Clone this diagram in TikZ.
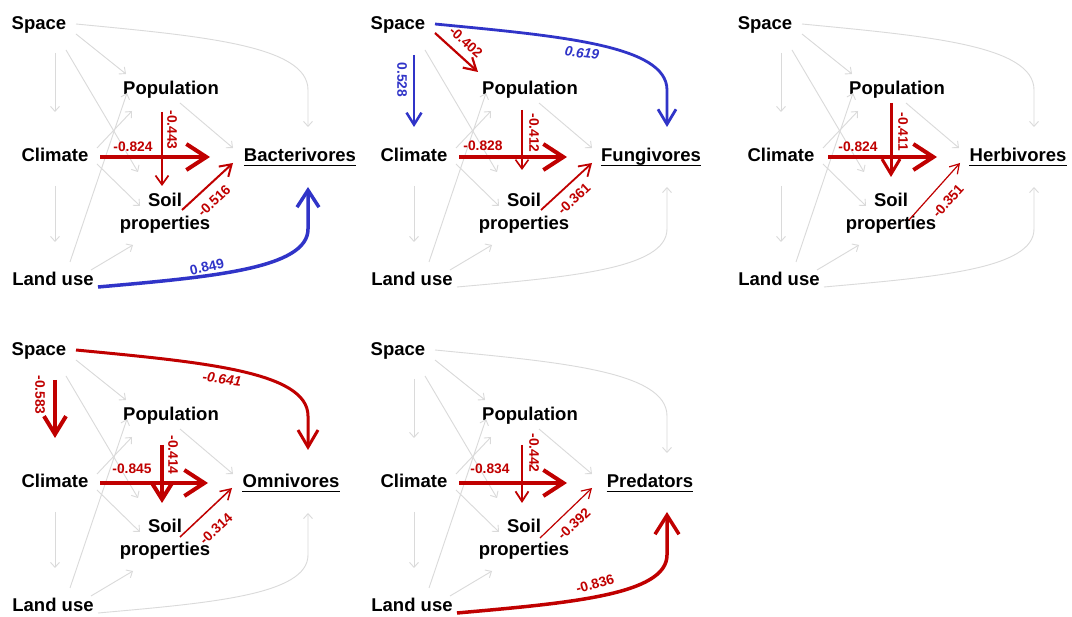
\documentclass[tikz,border=0pt]{standalone}
\usepackage{fontspec}
\setmainfont{Liberation Sans}
\usetikzlibrary{arrows.meta,calc}
\definecolor{ghost}{RGB}{218,218,218}
\definecolor{cred}{RGB}{192,0,0}
\definecolor{cblue}{RGB}{48,52,200}
\tikzset{
  lab/.style={font=\fontsize{18.5}{23}\selectfont\bfseries, inner sep=0pt, anchor=base},
  lab2/.style={font=\fontsize{18.5}{23}\selectfont\bfseries, inner sep=0pt, anchor=center, align=center},
  num/.style={font=\fontsize{13.8}{15}\selectfont\bfseries, inner sep=0pt},
  inum/.style={font=\fontsize{13.8}{15}\selectfont\bfseries\itshape},
  rnum/.style={num, text=cred},
  bnum/.style={num, text=cblue},
  tp/.style 2 args={-{Straight Barb[length=#1,width=#2]}},
  gedge/.style={draw=ghost, line width=0.9pt, tp={5pt}{9pt}},
  rE/.style={draw=cred},
  bE/.style={draw=cblue},
  gSC/.style={gedge}, gSP/.style={gedge}, gSS/.style={gedge}, gST/.style={gedge},
  gPT/.style={gedge}, gCP/.style={gedge}, gCS/.style={gedge}, gCL/.style={gedge},
  gLP/.style={gedge}, gLS/.style={gedge}, gLT/.style={gedge},
  hid/.style={draw=none},
  uline/.style={line width=1.4pt, draw=black}
}
% #1 prefix, #2 target text, #3 target centre x
\newcommand\mkpanel[3]{%
  \node[lab] (#1sp) at (39,29.5) {Space};
  \node[lab] (#1po) at (171,95) {Population};
  \node[lab] (#1cl) at (55,162) {Climate};
  \node[lab2] (#1so) at (165,213.7) {Soil\\properties};
  \node[lab] (#1lu) at (53,286) {Land use};
  \node[lab] (#1t) at (#3,162) {#2};
  \draw[uline] ([yshift=-3.5pt]#1t.base west) -- ([yshift=-3.5pt]#1t.base east);
  \draw[gSC] ([shift={(16,23.5)}]#1sp.base) -- ([shift={(0,-50)}]#1cl.base);
  \draw[gSP] ([shift={(37,4.5)}]#1sp.base) -- ([shift={(-45,-21)}]#1po.base);
  \draw[gSS] ([shift={(27,20.5)}]#1sp.base) -- ([shift={(-27,-41.7)}]#1so.center);
  \draw[gST] ([shift={(37,-5.5)}]#1sp.base) .. controls +(124,12) and +(0,-45) .. ++(232,66) -- ([shift={(308-#3,-35)}]#1t.base);
  \draw[gPT] ([shift={(9,8)}]#1po.base) -- ([shift={(233-#3,-14)}]#1t.base);
  \draw[gCP] ([shift={(42,-14)}]#1cl.base) -- ([shift={(-39,16)}]#1po.base);
  \draw[gCS] ([shift={(42,2)}]#1cl.base) -- ([shift={(-25,-7.7)}]#1so.center);
  \draw[gCL] ([shift={(0,24)}]#1cl.base) -- ([shift={(2,-44)}]#1lu.base);
  \draw[gLP] ([shift={(17,-24)}]#1lu.base) -- ([shift={(-44,-2)}]#1po.base);
  \draw[gLS] ([shift={(38,-16)}]#1lu.base) -- ([shift={(-32,31.3)}]#1so.center);
  \draw[gLT] ([shift={(45,1)}]#1lu.base) .. controls +(112,-10) and +(0,40) .. ++(210,-58) -- ([shift={(308-#3,25)}]#1t.base);
}
\begin{document}
\begin{tikzpicture}[x=1pt,y=-1pt]
\fill[white] (0,0) rectangle (1072,617);
\useasboundingbox (0,0) rectangle (1072,617);

% ---------- Panel 1: Bacterivores ----------
\begin{scope}[gLT/.style={hid}]
\mkpanel{P1}{Bacterivores}{300}
\draw[rE, line width=4pt, tp={20pt}{26pt}] ([shift={(45,-5)}]P1cl.base) -- ([shift={(-90,-5)}]P1t.base);
\node[rnum] (P1L1) at (133,147) {-0.824};
\draw[rE, line width=1.7pt, tp={9pt}{13pt}] ([shift={(-9,17)}]P1po.base) -- ([shift={(-3,-27.7)}]P1so.center);
\node[rnum, rotate=-90] (P1L2) at (172,130) {-0.443};
\draw[rE, line width=2pt, tp={11pt}{14pt}] ([shift={(17,-3.7)}]P1so.center) -- ([shift={(-67,1)}]P1t.base);
\node[rnum, rotate=43] (P1L3) at (214,201) {-0.516};
\draw[bE, line width=3.5pt, tp={17pt}{22pt}] ([shift={(45,1)}]P1lu.base) .. controls +(112,-10) and +(0,40) .. ++(210,-58) -- ([shift={(8,25)}]P1t.base);
\node[bnum, rotate=13] (P1L4) at (207,267) {0.849};
\end{scope}

% ---------- Panel 2: Fungivores ----------
\begin{scope}[shift={(359,0)}, gSC/.style={hid}, gSP/.style={hid}, gST/.style={hid}]
\mkpanel{P2}{Fungivores}{292}
\draw[bE, line width=2.5pt, tp={12pt}{15pt}] ([shift={(16,25.5)}]P2sp.base) -- ([shift={(0,-35)}]P2cl.base);
\node[bnum, rotate=-90] (P2L1) at (43,80) {0.528};
\draw[rE, line width=2.2pt, tp={12pt}{14pt}] ([shift={(37,3.5)}]P2sp.base) -- ([shift={(-52,-23)}]P2po.base);
\node[rnum, rotate=-42] (P2L2) at (107,42) {-0.402};
\draw[bE, line width=2.8pt, tp={15pt}{18pt}] ([shift={(37,-5.5)}]P2sp.base) .. controls +(124,12) and +(0,-45) .. ++(232,66) -- ([shift={(16,-35)}]P2t.base);
\node[bnum, rotate=-7, inum] (P2L3) at (223,53) {0.619};
\draw[rE, line width=4pt, tp={20pt}{26pt}] ([shift={(45,-5)}]P2cl.base) -- ([shift={(-84,-5)}]P2t.base);
\node[rnum] (P2L4) at (124,146) {-0.828};
\draw[rE, line width=1.6pt, tp={9pt}{13pt}] ([shift={(-8,15)}]P2po.base) -- ([shift={(-2,-43.7)}]P2so.center);
\node[rnum, rotate=-90] (P2L5) at (175,133) {-0.412};
\draw[rE, line width=1.8pt, tp={11pt}{14pt}] ([shift={(17,-3.7)}]P2so.center) -- ([shift={(-59,1)}]P2t.base);
\node[rnum, rotate=43] (P2L6) at (215,199) {-0.361};
\end{scope}

% ---------- Panel 3: Herbivores ----------
\begin{scope}[shift={(726,0)}]
\mkpanel{P3}{Herbivores}{292}
\draw[rE, line width=4pt, tp={20pt}{26pt}] ([shift={(47,-5)}]P3cl.base) -- ([shift={(-81,-5)}]P3t.base);
\node[rnum] (P3L1) at (132,147) {-0.824};
\draw[rE, line width=3pt, tp={15pt}{18pt}] ([shift={(-6,8)}]P3po.base) -- ([shift={(0,-36.7)}]P3so.center);
\node[rnum, rotate=-90] (P3L2) at (177,132) {-0.411};
\draw[rE, line width=1.2pt, tp={9pt}{11pt}] ([shift={(18,6.3)}]P3so.center) -- ([shift={(-58,1)}]P3t.base);
\node[rnum, rotate=48] (P3L3) at (222,201) {-0.351};
\end{scope}

% ---------- Panel 4: Omnivores ----------
\begin{scope}[shift={(0,326)}, gSC/.style={hid}, gST/.style={hid}]
\mkpanel{P4}{Omnivores}{291}
\draw[rE, line width=4pt, tp={18pt}{22pt}] ([shift={(16,24.5)}]P4sp.base) -- ([shift={(0,-50)}]P4cl.base);
\node[rnum, rotate=-90] (P4L1) at (40,69) {-0.583};
\draw[rE, line width=3pt, tp={17pt}{20pt}] ([shift={(37,-5.5)}]P4sp.base) .. controls +(124,12) and +(0,-45) .. ++(232,66) -- ([shift={(17,-38)}]P4t.base);
\node[rnum, rotate=-7, inum] (P4L2) at (222,53) {-0.641};
\draw[rE, line width=4pt, tp={20pt}{26pt}] ([shift={(45,-5)}]P4cl.base) -- ([shift={(-83,-5)}]P4t.base);
\node[rnum] (P4L3) at (132,143) {-0.845};
\draw[rE, line width=4pt, tp={16pt}{20pt}] ([shift={(-9,24)}]P4po.base) -- ([shift={(-3,-36.7)}]P4so.center);
\node[rnum, rotate=-90] (P4L4) at (173,129) {-0.414};
\draw[rE, line width=1.5pt, tp={10pt}{12pt}] ([shift={(15,-2.7)}]P4so.center) -- ([shift={(-59,0)}]P4t.base);
\node[rnum, rotate=43] (P4L5) at (216,203) {-0.314};
\end{scope}

% ---------- Panel 5: Predators ----------
\begin{scope}[shift={(359,326)}, gLT/.style={hid}]
\mkpanel{P5}{Predators}{291}
\draw[rE, line width=4pt, tp={20pt}{26pt}] ([shift={(45,-5)}]P5cl.base) -- ([shift={(-83,-5)}]P5t.base);
\node[rnum] (P5L1) at (131,143) {-0.834};
\draw[rE, line width=1.8pt, tp={10pt}{13pt}] ([shift={(-8,24)}]P5po.base) -- ([shift={(-2,-36.7)}]P5so.center);
\node[rnum, rotate=-90] (P5L2) at (175,127) {-0.442};
\draw[rE, line width=1.2pt, tp={9pt}{11pt}] ([shift={(16,-1.7)}]P5so.center) -- ([shift={(-58,0)}]P5t.base);
\node[rnum, rotate=43] (P5L3) at (215,198) {-0.392};
\draw[rE, line width=3.5pt, tp={19pt}{24pt}] ([shift={(45,1)}]P5lu.base) .. controls +(112,-10) and +(0,40) .. ++(210,-58) -- ([shift={(17,24)}]P5t.base);
\node[rnum, rotate=16] (P5L4) at (236,258) {-0.836};
\end{scope}
\end{tikzpicture}
\end{document}
